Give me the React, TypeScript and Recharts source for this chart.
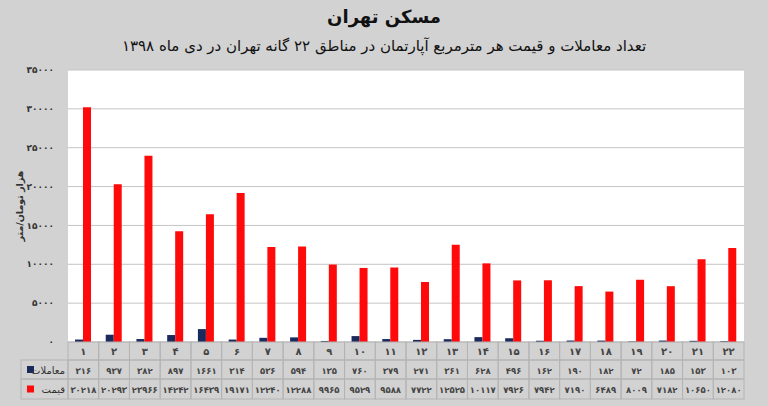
import React from 'react';
import { BarChart, Bar, XAxis, YAxis, CartesianGrid } from 'recharts';

const regions = ['1','2','3','4','5','6','7','8','9','10','11','12','13','14','15','16','17','18','19','20','21','22'];
const transactions = [316, 937, 382, 897, 1661, 314, 536, 594, 135, 760, 379, 271, 361, 628, 496, 162, 190, 182, 72, 185, 153, 103];
const prices = [30218, 20293, 23966, 14242, 16439, 19171, 12240, 12288, 9965, 9529, 9588, 7722, 12525, 10117, 7926, 7942, 7190, 6489, 8009, 7182, 10650, 12080];
const yTicks = [0, 5000, 10000, 15000, 20000, 25000, 30000, 35000];

const title = 'مسکن تهران';
const subtitle = 'تعداد معاملات و قیمت هر مترمربع آپارتمان در مناطق ۲۲ گانه تهران در دی ماه ۱۳۹۸';
const yLabel = 'هزار تومان/متر';
const txName = 'معاملات';
const priceName = 'قیمت';

const data = regions.map((r, i) => ({ region: r, tx: transactions[i], price: prices[i] }));

const toFa = (v: any) => String(v).replace(/\d/g, (d) => '۰۱۲۳۴۵۶۷۸۹'[Number(d)]);

const W = 768;
const H = 406;
const M = { top: 70, right: 24, left: 0, bottom: 7 };
const YW = 68;
const PLOT_W = W - M.left - M.right - YW;
const BW = PLOT_W / regions.length;
const NAVY = '#1b2a5c';
const RED = '#ff0a0a';
const BG = '#d2d2d2';
const LINE = '#b4b4b4';
const FONT = "'DejaVu Sans', sans-serif";

const makeTick = (rowH: number, kind: 'head' | 'tx' | 'price') => (props: any) => {
  const { x, y, index } = props;
  const value = kind === 'head' ? regions[index] : kind === 'tx' ? transactions[index] : prices[index];
  const left = x - BW / 2;
  return (
    <g>
      <rect x={left} y={y} width={BW} height={rowH} fill="none" stroke={LINE} strokeWidth={1} />
      <text x={x} y={y + rowH / 2 + 4} textAnchor="middle" fontSize={kind === 'head' ? 10 : 8.5} fontWeight="bold" fill="#444" fontFamily={FONT}>
        {toFa(value)}
      </text>
      {index === 0 && kind !== 'head' && (
        <g>
          <rect x={left - 47} y={y} width={47} height={rowH} fill="none" stroke={LINE} strokeWidth={1} />
          <rect x={left - 41} y={y + rowH / 2 - 3.5} width={7} height={7} fill={kind === 'tx' ? NAVY : RED} />
          <text x={left - 3} y={y + rowH / 2 + 4} textAnchor="end" fontSize={10} fill="#333" fontFamily={FONT}>
            {kind === 'tx' ? txName : priceName}
          </text>
        </g>
      )}
    </g>
  );
};

const YLabelContent = (props: any) => {
  const { viewBox } = props;
  const cy = viewBox.y + viewBox.height / 2;
  return (
    <text x={19} y={cy} transform={`rotate(-90 19 ${cy})`} textAnchor="middle" dominantBaseline="central" fontSize={9.5} fontWeight="bold" fill="#333" fontFamily={FONT}>
      {yLabel}
    </text>
  );
};

export default function App() {
  return (
    <div style={{ position: 'absolute', left: 0, top: 0, width: W, height: H, background: BG, overflow: 'hidden' }}>
      <div style={{ position: 'absolute', left: 0, top: 6, width: W, textAlign: 'center', fontFamily: FONT, fontSize: 18, lineHeight: '22px', fontWeight: 'bold', color: '#111', direction: 'rtl' }}>
        {title}
      </div>
      <div style={{ position: 'absolute', left: 0, top: 35, width: W, textAlign: 'center', fontFamily: FONT, fontSize: 15, lineHeight: '22px', color: '#111', direction: 'rtl' }}>
        {subtitle}
      </div>
      <div style={{ position: 'absolute', left: 0, top: 0 }}>
        <BarChart width={W} height={H} data={data} margin={M} barGap={0}>
          <CartesianGrid xAxisId="a" vertical={false} stroke="#c4c4c4" fill="#ffffff" />
          <XAxis xAxisId="a" dataKey="region" height={18} axisLine={false} tickLine={false} tickSize={0} tickMargin={0} interval={0} tick={makeTick(18, 'head')} />
          <XAxis xAxisId="b" dataKey="region" height={19} axisLine={false} tickLine={false} tickSize={0} tickMargin={0} interval={0} tick={makeTick(19, 'tx')} />
          <XAxis xAxisId="c" dataKey="region" height={20} axisLine={false} tickLine={false} tickSize={0} tickMargin={0} interval={0} tick={makeTick(20, 'price')} />
          <YAxis width={YW} domain={[0, 35000]} ticks={yTicks} interval={0} axisLine={false} tickLine={false} tickMargin={8}
            tick={{ fontSize: 9, fontWeight: 'bold', fill: '#333', fontFamily: FONT }} tickFormatter={toFa}
            label={{ content: <YLabelContent /> } as any} />
          <Bar xAxisId="a" dataKey="tx" fill={NAVY} barSize={8} isAnimationActive={false} />
          <Bar xAxisId="a" dataKey="price" fill={RED} barSize={8} isAnimationActive={false} />
        </BarChart>
      </div>
    </div>
  );
}
